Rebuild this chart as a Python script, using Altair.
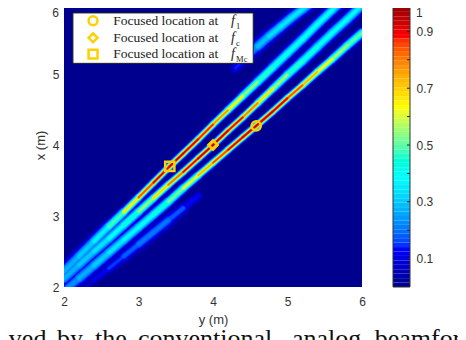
import math
import altair as alt
import pandas as pd

# beam ridges: y (m), x (m), level
a_y = [2.0, 2.2, 2.4, 2.6, 2.8, 3.0, 3.2, 3.42, 3.6, 3.8, 4.0, 4.2, 4.4, 4.6, 4.8, 5.0, 5.2, 5.4, 5.6, 5.75]
a_x = [2.22, 2.43, 2.64, 2.85, 3.05, 3.26, 3.47, 3.70, 3.88, 4.08, 4.29, 4.49, 4.69, 4.89, 5.09, 5.29, 5.49, 5.70, 5.90, 6.05]
a_v = [.26, .3, .34, .42, .6, .82, .95, 1, 1, .97, .88, .75, .62, .52, .45, .42, .42, .42, .4, .38]
b_y = [2.0, 2.2, 2.4, 2.6, 2.8, 3.0, 3.2, 3.4, 3.6, 3.8, 4.0, 4.2, 4.4, 4.6, 4.8, 5.0, 5.2, 5.4, 5.6, 5.8, 6.0]
b_x = [2.12, 2.31, 2.50, 2.68, 2.87, 3.06, 3.25, 3.44, 3.62, 3.81, 4.0, 4.20, 4.39, 4.59, 4.79, 4.99, 5.18, 5.38, 5.58, 5.77, 5.97]
b_v = [.26, .3, .33, .38, .42, .5, .65, .8, .92, 1, 1, 1, .9, .78, .65, .52, .45, .42, .4, .4, .38]
c_y = [2.0, 2.2, 2.4, 2.6, 2.8, 3.0, 3.2, 3.4, 3.6, 3.8, 4.0, 4.2, 4.4, 4.58, 4.8, 5.0, 5.2, 5.4, 5.6, 5.8, 6.0]
c_x = [1.94, 2.12, 2.30, 2.48, 2.66, 2.84, 3.02, 3.20, 3.39, 3.57, 3.75, 3.93, 4.11, 4.27, 4.47, 4.66, 4.84, 5.03, 5.21, 5.40, 5.58]
c_v = [.22, .25, .3, .34, .38, .4, .42, .5, .6, .7, .85, .95, 1, 1, 1, .95, .83, .72, .63, .55, .5]
d_y = [2.2, 2.4, 2.6, 2.8, 3.0, 3.2, 3.4, 3.6, 3.8]
d_x = [1.93, 2.1, 2.26, 2.43, 2.6, 2.77, 2.94, 3.11, 3.28]
d_v = [.08, .1, .14, .17, .2, .22, .2, .16, .1]
e_y = [4.3, 4.45, 4.6, 4.75, 4.9, 5.05, 5.2, 5.35]
e_x = [5.08, 5.24, 5.39, 5.53, 5.66, 5.79, 5.91, 6.03]
e_v = [.1, .18, .27, .33, .36, .36, .36, .33]
ridges = [(a_y, a_x, a_v), (b_y, b_x, b_v), (c_y, c_x, c_v), (d_y, d_x, d_v), (e_y, e_x, e_v)]

focus_y = [3.42, 4.0, 4.58]
focus_x = [3.70, 4.0, 4.27]
focus_shape = ["square", "diamond", "circle"]

legend_text = ["Focused location at", "Focused location at", "Focused location at"]
legend_sub = ["1", "c", "Mc"]
legend_shape = ["circle", "diamond", "square"]
legend_row_x = [5.75, 5.51, 5.28]
legend_marker_y = 2.39
legend_text_y = 2.66
legend_f_y = 4.24
legend_sub_y = 4.31
legend_box_y = [2.12, 4.54]
legend_box_x = [5.15, 5.86]

axis_ticks = [2, 3, 4, 5]
x_axis_ticks = [2, 3, 4, 5, 6]
bar_ticks = [.1, .2, .3, .4, .5, .6, .7, .8, .9]
levels = [i / 64 for i in range(64)]

caption_words = ["ved", "by", "the", "conventional", "analog", "beamfor"]
caption_pos = [1.26, 1.906, 2.416, 2.993, 5.06, 6.17]

JET_D = [0, .125, .375, .625, .875, 1]
JET_R = ["#00008f", "#0000ff", "#00ffff", "#ffff00", "#ff0000", "#800000"]
color_scale = alt.Scale(domain=JET_D, range=JET_R, clamp=True)

# each ridge is painted as nested bands, low levels first, so the brightest wins
FRACTIONS = [.06, .1, .15, .22, .3, .38, .46, .54, .62, .7, .78, .86, .94]
rows = []
for ys, xs, vs in ridges:
    for i in range(len(ys) - 1):
        v = (vs[i] + vs[i + 1]) / 2
        sigma = (2.0 + 4 * (1 - v) ** 2) * min(1, v / .25)
        for f in FRACTIONS:
            rows.append(dict(y0=ys[i], x0=xs[i], y1=ys[i + 1], x1=xs[i + 1], v=v * f,
                             w=2 * sigma * math.sqrt(-2 * math.log(f))))
beams = pd.DataFrame(rows).sort_values("v", kind="stable")

FONT = "Liberation Sans"
SERIF = "Liberation Serif"
GOLD = "#ffcf00"
xs_ = alt.Scale(domain=[2, 6], nice=False)
ys_ = alt.Scale(domain=[2, 6], nice=False)

back = alt.Chart(pd.DataFrame({"a": [2], "b": [6], "v": [0]})).mark_rect().encode(
    x=alt.X("a:Q", scale=xs_, title="y (m)",
            axis=alt.Axis(values=x_axis_ticks, format="d", grid=False, domain=False, tickSize=0, labelFlush=False,
                          labelPadding=9, titlePadding=6, labelFont=FONT, titleFont=FONT, labelFontSize=12,
                          titleFontSize=13, titleFontWeight="normal", labelColor="#333", titleColor="#333")),
    x2="b:Q",
    y=alt.Y("a:Q", scale=ys_, title="x (m)",
            axis=alt.Axis(values=axis_ticks, format="d", grid=False, domain=False, tickSize=0, labelFlush=False,
                          labelPadding=5, titlePadding=5, labelFont=FONT, titleFont=FONT, labelFontSize=12,
                          titleFontSize=13, titleFontWeight="normal", labelColor="#333", titleColor="#333")),
    y2="b:Q",
    color=alt.Color("v:Q", scale=color_scale, legend=None),
)

# the top 5px fall outside the page area, so the top labels sit just under it
top_label = alt.Chart(pd.DataFrame({"a": [2], "b": [6], "t": ["6"]})).mark_text(
    font=FONT, fontSize=12, align="right", baseline="top", color="#333", dx=-5, dy=5).encode(
    x="a:Q", y="b:Q", text="t:N")

beam_marks = alt.Chart(beams).mark_rule(clip=True, strokeCap="round").encode(
    x="y0:Q", x2="y1:Q", y="x0:Q", y2="x1:Q",
    color=alt.Color("v:Q", scale=color_scale, legend=None),
    size=alt.Size("w:Q", scale=None),
)

focus = alt.Chart(pd.DataFrame({"y": focus_y, "x": focus_x, "s": focus_shape})).mark_point(
    filled=False, color=GOLD, strokeWidth=2.5, size=85, opacity=1).encode(
    x="y:Q", y="x:Q", shape=alt.Shape("s:N", scale=None))

box = alt.Chart(pd.DataFrame({"a": [legend_box_y[0]], "a2": [legend_box_y[1]], "b": [legend_box_x[0]], "b2": [legend_box_x[1]]})).mark_rect(
    fill="white", stroke="#222", strokeWidth=1).encode(x="a:Q", x2="a2:Q", y="b:Q", y2="b2:Q")

leg = pd.DataFrame({"t": legend_text, "s": legend_sub, "sh": legend_shape, "x": legend_row_x,
                    "my": [legend_marker_y] * 3, "ty": [legend_text_y] * 3, "fy": [legend_f_y] * 3,
                    "sy": [legend_sub_y] * 3})
leg_marker = alt.Chart(leg).mark_point(filled=False, color=GOLD, strokeWidth=2.5, size=80, opacity=1).encode(
    x="my:Q", y="x:Q", shape=alt.Shape("sh:N", scale=None))
leg_text = alt.Chart(leg).mark_text(font=SERIF, fontSize=13.5, align="left", baseline="middle", color="#222").encode(
    x="ty:Q", y="x:Q", text="t:N")
leg_f = alt.Chart(leg).mark_text(font=SERIF, fontSize=14, fontStyle="italic", align="left", baseline="middle", color="#222").encode(
    x="fy:Q", y="x:Q", text=alt.value("f"))
leg_s = alt.Chart(leg).mark_text(font=SERIF, fontSize=8.5, align="left", baseline="top", color="#222", dy=1).encode(
    x="sy:Q", y="x:Q", text="s:N")

cap = alt.Chart(pd.DataFrame({"t": caption_words, "a": caption_pos, "b": [2.0] * 6})).mark_text(
    font=SERIF, fontSize=26, align="left", baseline="alphabetic", dy=60, color="#111", clip=False).encode(
    x="a:Q", y="b:Q", text="t:N")

main = alt.layer(back, top_label, beam_marks, focus, box, leg_marker, leg_text, leg_f, leg_s, cap)

bx = alt.Scale(domain=[0, 1], range=[329, 346])
by = alt.Scale(domain=[0, 1], range=[284, 0])
bar_df = pd.DataFrame({"v": levels, "v2": [l + 1 / 64 for l in levels], "a": [0] * 64, "b": [1] * 64})
bar = alt.Chart(bar_df).mark_rect().encode(
    x=alt.X("a:Q", scale=bx, axis=None), x2="b:Q",
    y=alt.Y("v:Q", scale=by, title=None,
            axis=alt.Axis(orient="right", values=bar_ticks, labelExpr="datum.value", grid=False, domain=False, tickSize=0,
                          offset=48, labelPadding=6, labelFont=FONT, labelFontSize=12, labelColor="#333",
                          labelFlush=False, labelOverlap=False)),
    y2="v2:Q",
    color=alt.Color("v:Q", scale=color_scale, legend=None),
)
bar_ticks_m = alt.Chart(pd.DataFrame({"t": bar_ticks, "a": [.82] * 9, "b": [1] * 9})).mark_rule(color="#223", strokeWidth=1).encode(
    x="a:Q", x2="b:Q", y="t:Q")
bar_frame = alt.Chart(pd.DataFrame({"a": [0], "b": [1], "c": [0], "d": [1]})).mark_rect(
    fill=None, stroke="#333", strokeWidth=1).encode(x="a:Q", x2="b:Q", y="c:Q", y2="d:Q")
bar_top = alt.Chart(pd.DataFrame({"a": [1], "c": [1], "t": ["1"]})).mark_text(
    font=FONT, fontSize=12, align="left", baseline="top", color="#333", dx=6, dy=5).encode(
    x="a:Q", y="c:Q", text="t:N")
colorbar = alt.layer(bar, bar_ticks_m, bar_frame, bar_top)

chart = alt.layer(main, colorbar).resolve_scale(x="independent", y="independent").properties(
    width=298, height=284,
    autosize=alt.AutoSizeParams(type="none"),
    padding=alt.Padding(left=56, top=-5, right=96, bottom=53),
    background="white",
).configure_view(stroke=None)

chart.save("out.html", embed_options={"renderer": "svg", "actions": False})
